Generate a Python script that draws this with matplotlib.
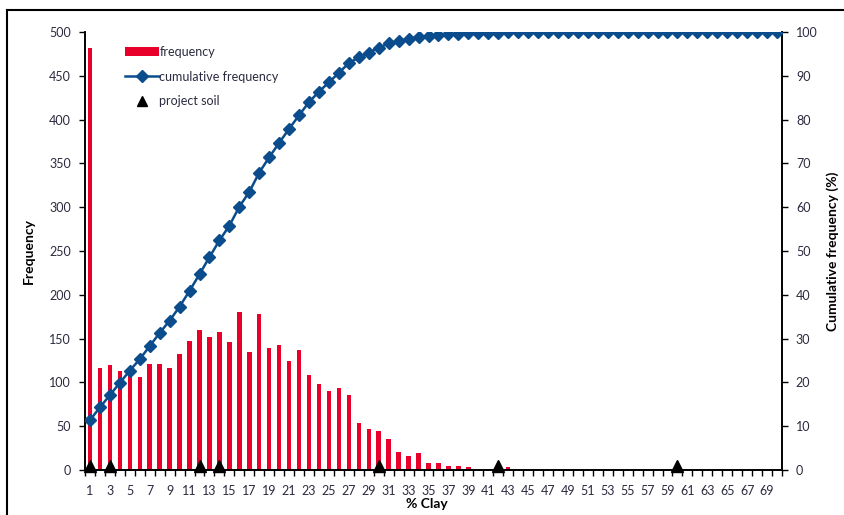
import matplotlib
matplotlib.use("Agg")
import matplotlib.pyplot as plt
from matplotlib.lines import Line2D
from matplotlib.patches import Patch
import numpy as np

plt.rcParams['font.family'] = ['Lato', 'DejaVu Sans']

clay = list(range(1, 71))
freq = [482, 117, 120, 113, 110, 106, 121, 121, 117, 132,
        147, 160, 152, 157, 146, 180, 135, 178, 139, 143,
        125, 137, 108, 98, 90, 94, 86, 54, 47, 44,
        35, 20, 16, 19, 8, 8, 5, 5, 3, 1,
        1.5, 0, 3, 0.5, 0.5, 0.5, 0.5, 0, 0.5, 0,
        0.5, 0.5, 0.5, 0.5, 0.5, 0, 0, 0, 0, 0.5,
        0.5, 0.5, 0.5, 0, 0, 0.5, 0, 0, 0, 0.5]
cum_freq = [11.4, 14.3, 17.1, 19.9, 22.7, 25.3, 28.3, 31.3, 34.1, 37.3,
            40.9, 44.7, 48.6, 52.4, 55.8, 60.1, 63.5, 67.9, 71.4, 74.7,
            77.9, 81.0, 84.0, 86.4, 88.5, 90.7, 92.9, 94.2, 95.3, 96.4,
            97.4, 97.9, 98.4, 98.8, 99.1, 99.3, 99.5, 99.6, 99.7, 99.8,
            99.8, 99.8, 99.9, 99.9, 99.9, 99.9, 99.9, 99.9, 99.9, 99.9,
            99.9, 99.9, 99.9, 100, 100, 100, 100, 100, 100, 100,
            100, 100, 100, 100, 100, 100, 100, 100, 100, 100]
project_clay = [1, 3, 12, 14, 30, 42, 60]
project_level = [5, 5, 5, 5, 5, 5, 5]

W, H = 845, 515
fig = plt.figure(figsize=(W / 100, H / 100), dpi=100)
ax = fig.add_axes([85 / W, 1 - 470 / H, (782 - 85) / W, (470 - 32) / H])
ax2 = ax.twinx()

red = '#E8002A'
blue = '#0B4C8C'
txt = '#2b2b40'

ax.bar(clay, freq, width=0.45, color=red, zorder=2)
ax.plot(project_clay, project_level, linestyle='none', marker='^',
        markersize=8, color='black', zorder=5, clip_on=False)
ax2.plot(clay, cum_freq, color=blue, linewidth=1.8, marker='D',
         markersize=5.8, zorder=4)

ax.set_xlim(0.5, 70.5)
ax.set_ylim(0, 500)
ax2.set_ylim(0, 100)
ax.set_yticks(np.arange(0, 501, 50))
ax2.set_yticks(np.arange(0, 101, 10))
ax.set_xticks(clay[::2])
ax.set_xticks(np.arange(0.5, 71, 1), minor=True)
ax.tick_params(axis='x', which='major', length=0, labelsize=9, labelcolor=txt, pad=11)
ax.tick_params(axis='x', which='minor', length=4, width=1, direction='out')
ax.tick_params(axis='y', length=4, width=1, labelsize=9, labelcolor=txt, pad=6)
ax2.tick_params(axis='y', length=4, width=1, labelsize=9, labelcolor=txt, pad=6)

for a in (ax, ax2):
    a.spines['top'].set_visible(False)
    for s in ('left', 'right', 'bottom'):
        a.spines[s].set_color('black')
        a.spines[s].set_linewidth(1.2)
ax.patch.set_visible(False)

ax.set_ylabel('Frequency', fontsize=10, fontweight='bold', color='black')
ax.yaxis.set_label_coords(-0.072, 0.5)
ax2.set_ylabel('Cumulative frequency (%)', fontsize=10, fontweight='bold', color='black')
ax2.yaxis.set_label_coords(1.063, 0.5)
ax.set_xlabel('% Clay', fontsize=10, fontweight='bold', color='black')
ax.xaxis.set_label_coords(0.49, -0.063)

handles = [Patch(facecolor=red, edgecolor='none'),
           Line2D([], [], color=blue, linewidth=1.8, marker='D', markersize=5.8),
           Line2D([], [], linestyle='none', marker='^', markersize=7, color='black')]
labels = ['frequency', 'cumulative frequency', 'project soil']
leg = ax2.legend(handles, labels, loc='upper left',
                 bbox_to_anchor=(115 / W, 1 - 36 / H), bbox_transform=fig.transFigure,
                 frameon=False, fontsize=9, handlelength=2.7, handletextpad=0.05,
                 labelspacing=1.0, borderpad=0.3)
for t in leg.get_texts():
    t.set_color(txt)

fig.add_artist(Line2D([7 / W, 7 / W], [0, 1 - 9.5 / H], transform=fig.transFigure,
                      color='black', linewidth=1.5))
fig.add_artist(Line2D([7 / W, 1], [1 - 9.5 / H, 1 - 9.5 / H], transform=fig.transFigure,
                      color='black', linewidth=1.5))

fig.savefig('out.png', dpi=100)
